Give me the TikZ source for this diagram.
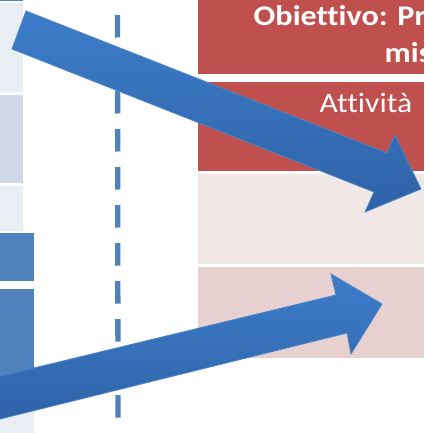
\documentclass[tikz,border=0pt]{standalone}
\usepackage{fontspec}
\setmainfont{Carlito}[Ligatures=NoCommon]
\newfontfamily\boxfont{Carlito}[FakeStretch=1.13,Ligatures=NoCommon]
\definecolor{redbox}{HTML}{C0504D}
\definecolor{pinkA}{HTML}{F2E7E7}
\definecolor{pinkB}{HTML}{E7D0D0}
\definecolor{paleblue}{HTML}{E9EDF4}
\definecolor{greyblue}{HTML}{D0D8E8}
\definecolor{midblue}{HTML}{4F81BD}
\definecolor{arrowtop}{HTML}{3D7DCA}
\definecolor{arrowbot}{HTML}{2E62A6}
\definecolor{arrowedge}{HTML}{4A84C8}
\tikzset{
  bigarrow/.style={top color=arrowtop, bottom color=arrowbot, draw=arrowedge, line width=0.8pt, line join=miter},
  divider/.style={draw=midblue, line width=5.3pt, dash pattern=on 22.5pt off 15.5pt},
  boxtext/.style={text=white, inner sep=0pt, font=\boxfont\fontsize{28}{30}\selectfont},
  boldtext/.style={boxtext, font=\boxfont\fontsize{28.5}{30}\selectfont\bfseries}
}
\begin{document}
\begin{tikzpicture}[x=1pt,y=-1pt]
\useasboundingbox (0,0) rectangle (424,433);
\clip (0,0) rectangle (424,433);
% left column
\fill[midblue] (0,0) rectangle (22.5,1.2);
\fill[paleblue] (0,3) rectangle (22.5,92);
\fill[greyblue] (0,95) rectangle (22.5,183);
\fill[paleblue] (0,186) rectangle (22.5,231);
\fill[midblue] (0,233) rectangle (34,281);
\fill[midblue] (0,289) rectangle (34,377);
\fill[paleblue] (0,379) rectangle (34,433);
% right column
\fill[redbox] (198,0) rectangle (424,74);
\fill[redbox] (198,82) rectangle (424,171);
\fill[pinkA] (198,174) rectangle (424,264);
\fill[pinkB] (198,267) rectangle (424,358);
\node[boldtext, anchor=base west] (obj1) at (253.5,25.5) {Obiettivo: Pr};
\node[boldtext, anchor=base west] (obj2) at (384.5,63) {mis};
\node[boxtext, anchor=base west] (att) at (319.5,112.5) {Attività};
% dashed divider
\coordinate (dtop) at (117.5,15);
\coordinate (dbot) at (118,418);
\draw[divider] (dtop) -- (dbot);
% arrow 1
\coordinate (a1) at (26,11);
\coordinate (a2) at (387,153);
\coordinate (a3) at (395,135);
\coordinate (a4) at (421,189);
\coordinate (a5) at (365,212);
\coordinate (a6) at (374,192);
\coordinate (a7) at (12,49);
\path[bigarrow] (a1) -- (a2) -- (a3) -- (a4) -- (a5) -- (a6) -- (a7) -- cycle;
% arrow 2
\coordinate (b1) at (-20,381);
\coordinate (b2) at (336,295);
\coordinate (b3) at (331,274);
\coordinate (b4) at (382,304);
\coordinate (b5) at (351,354);
\coordinate (b6) at (347,333);
\coordinate (b7) at (-20,424);
\path[bigarrow] (b1) -- (b2) -- (b3) -- (b4) -- (b5) -- (b6) -- (b7) -- cycle;
\end{tikzpicture}
\end{document}
